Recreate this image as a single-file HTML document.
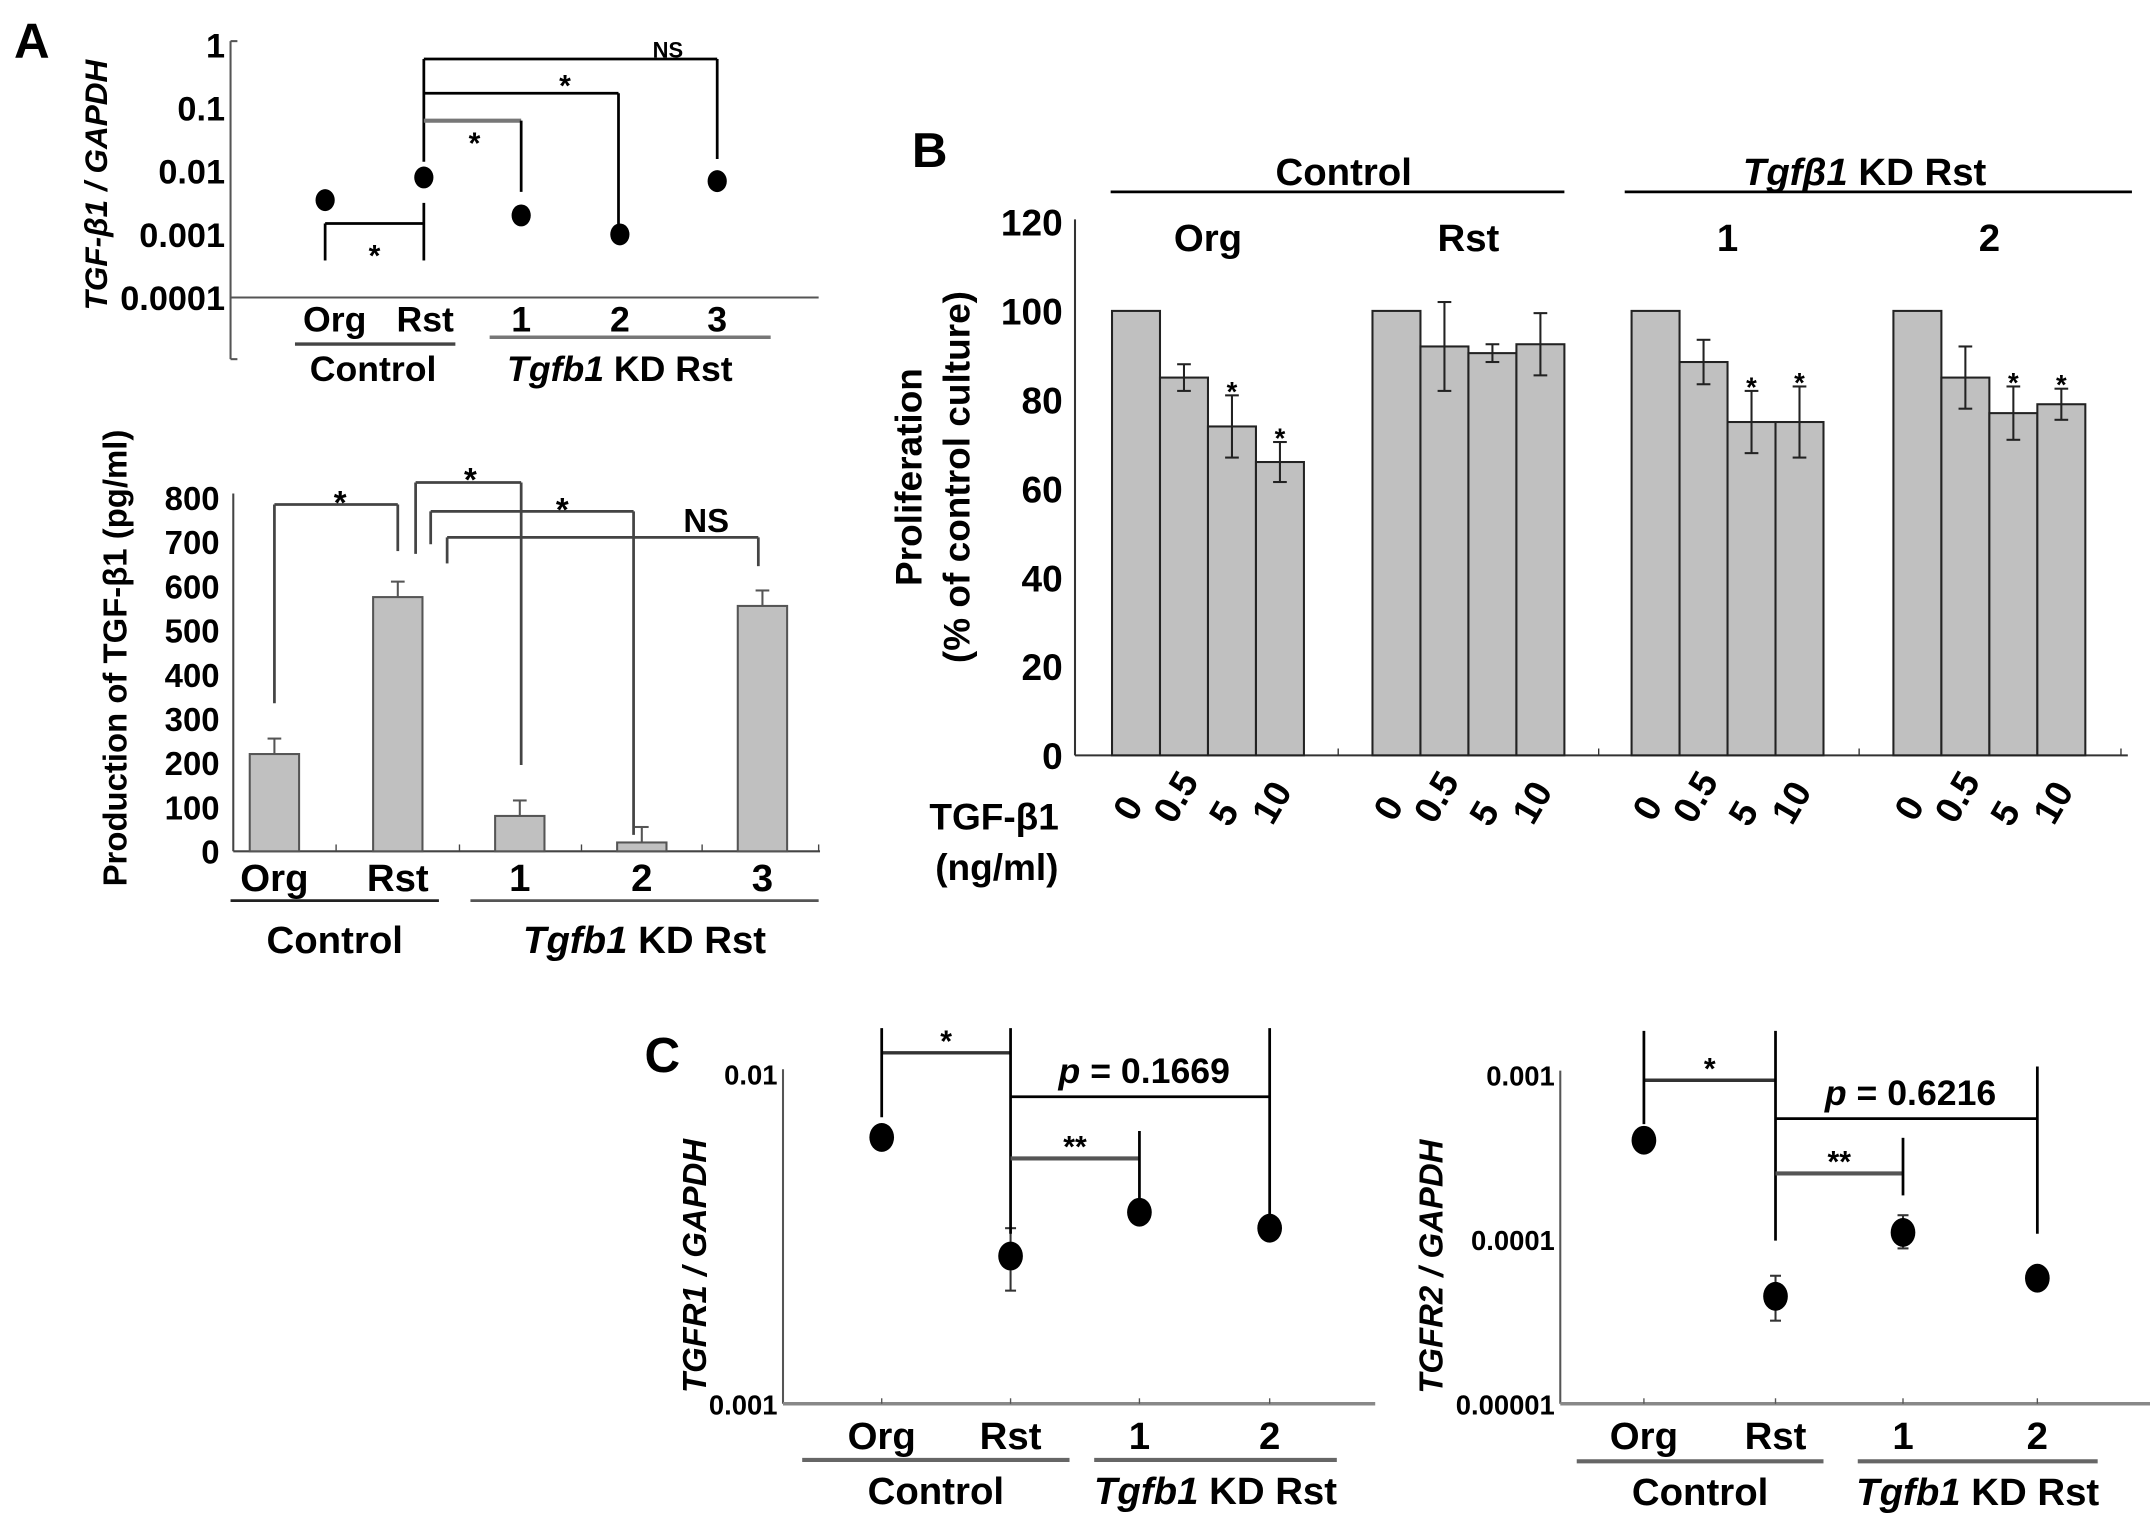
<!DOCTYPE html>
<html><head><meta charset="utf-8"><style>
html,body{margin:0;padding:0;background:#fff;}
svg{display:block;}
text{font-family:"Liberation Sans",sans-serif;font-weight:bold;fill:#000;}
.it{font-style:italic;}
</style></head><body>
<svg id="fig" width="2150" height="1534" viewBox="0 0 1568 1119" xmlns="http://www.w3.org/2000/svg">
<rect width="1568" height="1119" fill="#fff"/>
<g id="static">
<text x="10" y="42" font-size="36">A</text>
<text x="665" y="122" font-size="36">B</text>
<text x="470" y="782" font-size="36">C</text>
</g>
<g id="A1"></g>
<g id="A2"></g>
<g id="B"></g>
<g id="C1"></g>
<g id="C2"></g>
</svg>
<script>
// ---- data ----
const a1Categories = ["Org","Rst","1","2","3"];
const a1Values = [0.0035, 0.008, 0.002, 0.001, 0.007];
const a1Ticks = [1, 0.1, 0.01, 0.001, 0.0001];
const a1TickLabels = ["1","0.1","0.01","0.001","0.0001"];

const a2Categories = ["Org","Rst","1","2","3"];
const a2Values = [220, 575, 80, 20, 555];
const a2Errors = [35, 35, 35, 35, 35];
const a2Ticks = [0,100,200,300,400,500,600,700,800];

const bGroups = ["Org","Rst","1","2"];
const bDoses = ["0","0.5","5","10"];
const bValues = [[100,85,74,66],[100,92,90.5,92.5],[100,88.5,75,75],[100,85,77,79]];
const bErrors = [[0,3,7,4.5],[0,10,2,7],[0,5,7,8],[0,7,6,3.5]];
const bStars = [[0,0,1,1],[0,0,0,0],[0,0,1,1],[0,0,1,1]];
const bTicks = [0,20,40,60,80,100,120];

const c1Categories = ["Org","Rst","1","2"];
const c1Values = [0.0064, 0.0028, 0.0038, 0.0034];
const c1ErrLow = [0.0062, 0.0022, 0.0036, 0.0033];
const c1ErrHigh = [0.0066, 0.0034, 0.0040, 0.0035];
const c1TickLabels = ["0.01","0.001"];

const c2Categories = ["Org","Rst","1","2"];
const c2Values = [0.0004, 0.000045, 0.00011, 0.000058];
const c2ErrLow = [0.00039, 0.000032, 0.000088, 0.000056];
const c2ErrHigh = [0.00041, 0.00006, 0.00014, 0.00006];
const c2TickLabels = ["0.001","0.0001","0.00001"];

const NS="http://www.w3.org/2000/svg";
function el(parent, tag, attrs, txt){const e=document.createElementNS(NS,tag);for(const k in attrs)e.setAttribute(k,attrs[k]);if(txt!==undefined)e.textContent=txt;parent.appendChild(e);return e;}
function line(p,x1,y1,x2,y2,c,w){return el(p,'line',{x1,y1,x2,y2,stroke:c||'#000','stroke-width':w||2});}
function txt(p,x,y,s,size,anchor,extra){const t=el(p,'text',Object.assign({x,y,'font-size':size,'text-anchor':anchor||'middle'},extra||{}),s);return t;}

// ---- Panel A top ----
(function(){
 const g=document.getElementById('A1');
 const yA=v=>217-46*(Math.log10(v)+4);
 const xs=[237,309,380,452,523];
 line(g,168,30,168,262,'#555',1.5);line(g,168,30,173,30,'#555',1.5);line(g,168,262,173,262,'#555',1.5);
 line(g,168,217,597,217,'#555',1.5);
 a1Ticks.forEach((t,i)=>{const e=txt(g,164,yA(t)+9,a1TickLabels[i],25,'end');});
 const yt=txt(g,0,0,'TGF-β1 / GAPDH',23,'middle',{class:'it',transform:'translate(78,135) rotate(-90)'});
 
 a1Values.forEach((v,i)=>{
  line(g,xs[i],yA(v),xs[i],yA(v*0.7),'#666',1.5);
  const c=el(g,'ellipse',{cx:xs[i],cy:yA(v),rx:7,ry:8,fill:'#000'});
  
 });
 const lx=[244,310,380,452,523];
 a1Categories.forEach((c,i)=>{const e=txt(g,lx[i],242,c,26);});
 line(g,215,251,332,251,'#444',2.5);line(g,357,246,562,246,'#777',2.5);
 txt(g,272,278,'Control',26);
 const k=txt(g,452,278,'',26);el(k,'tspan',{class:'it'},'Tgfb1');el(k,'tspan',{},' KD Rst');
 // brackets
 line(g,309,43,523,43);line(g,309,43,309,118);line(g,523,43,523,116);txt(g,487,42,'NS',16);
 line(g,309,68,451,68);line(g,451,68,451,165);txt(g,412,70,'*',22);
 line(g,309,88,380,88,'#777',3);line(g,380,88,380,140);txt(g,346,112,'*',22);
 line(g,237,163,309,163);line(g,237,163,237,190);line(g,309,148,309,190);txt(g,273,194,'*',22);
})();

// ---- Panel A bottom ----
(function(){
 const g=document.getElementById('A2');
 const y=v=>621-v*0.3225;const xs=[200,290,379,468,556];const bw=36;
 line(g,170,360,170,621,'#444',1.5);line(g,170,621,598,621,'#444',1.5);
 a2Ticks.forEach(t=>{const e=txt(g,160,y(t)+9,String(t),24,'end');});
 [245,335,424,512,597].forEach(x=>line(g,x,621,x,616,'#444',1));
 const yt=txt(g,0,0,'Production of TGF-β1 (pg/ml)',24,'middle',{transform:'translate(92,480) rotate(-90)'});
 
 a2Values.forEach((v,i)=>{
  line(g,xs[i],y(v),xs[i],y(v+a2Errors[i]),'#555',1.5);line(g,xs[i]-5,y(v+a2Errors[i]),xs[i]+5,y(v+a2Errors[i]),'#555',1.5);
  const r=el(g,'rect',{x:xs[i]-bw/2,y:y(v),width:bw,height:621-y(v),fill:'#c0c0c0',stroke:'#555','stroke-width':1.5});
  
 });
 a2Categories.forEach((c,i)=>{const e=txt(g,xs[i],650,c,28);});
 line(g,168,657,320,657,'#222',2);line(g,343,657,597,657,'#555',2);
 txt(g,244,695,'Control',28);
 const k=txt(g,470,695,'',28);el(k,'tspan',{class:'it'},'Tgfb1');el(k,'tspan',{},' KD Rst');
 line(g,200,368,290,368,'#444',2);line(g,200,368,200,513,'#444',2);line(g,290,368,290,402,'#444',2);txt(g,248,375,'*',24);
 line(g,303,352,380,352,'#444',2);line(g,303,352,303,404,'#444',2);line(g,380,352,380,558,'#444',2);txt(g,343,358,'*',24);
 line(g,314,373,462,373,'#444',2);line(g,314,373,314,397,'#444',2);line(g,462,373,462,609,'#444',2);txt(g,410,380,'*',24);
 line(g,326,392,553,392,'#444',2);line(g,326,392,326,411,'#444',2);line(g,553,392,553,413,'#444',2);txt(g,515,388,'NS',24);
})();

// ---- Panel B ----
(function(){
 const g=document.getElementById('B');
 const y=v=>551-v*3.242;const starts=[811,1001,1190,1381];const bw=35;
 line(g,784,160,784,551,'#333',1.5);line(g,784,551,1552,551,'#333',1.5);
 [976,1166,1356,1547].forEach(x=>line(g,x,551,x,546,'#333',1));
 bTicks.forEach(t=>{const e=txt(g,775,y(t)+10,String(t),27,'end');});
 const t1=txt(g,0,0,'Proliferation',27,'middle',{transform:'translate(672,348) rotate(-90)'});
 
 txt(g,0,0,'(% of control culture)',27,'middle',{transform:'translate(707,348) rotate(-90)'});
 bGroups.forEach((gn,gi)=>{
  bValues[gi].forEach((v,di)=>{
   const x=starts[gi]+di*bw;
   const r=el(g,'rect',{x,y:y(v),width:bw,height:551-y(v),fill:'#c0c0c0',stroke:'#222','stroke-width':1.5});
   
   const e=bErrors[gi][di];const cx=x+bw/2;
   if(e>0){line(g,cx,y(v-e),cx,y(v+e),'#222',1.5);line(g,cx-5,y(v-e),cx+5,y(v-e),'#222',1.5);line(g,cx-5,y(v+e),cx+5,y(v+e),'#222',1.5);}
   if(bStars[gi][di]) txt(g,cx,y(v+e)+4,'*',20);
   const dy=[0,-8,4,-4][di];
   const lt=txt(g,0,0,bDoses[di],27,'middle',{transform:`translate(${cx+2},${594+dy}) rotate(-60)`});
   
  });
  const gl=txt(g,starts[gi]+2*bw,183,gn,28);
 });
 line(g,810,140,1141,140,'#000',2);line(g,1185,140,1555,140,'#000',2);
 txt(g,980,135,'Control',28);
 const k=txt(g,1360,135,'',28);el(k,'tspan',{class:'it'},'Tgfβ1');el(k,'tspan',{},' KD Rst');
 txt(g,725,605,'TGF-β1',27);txt(g,727,642,'(ng/ml)',27);
})();

// ---- Panel C ----
function logPanel(id,xAxis,yTop,yBot,decades,topExp,cats,vals,lo,hi,tickLabels,xs,title,titleX,pText,br,under){
 const g=document.getElementById(id);
 const per=(yBot-yTop)/decades;
 const y=v=>yTop+(topExp-Math.log10(v))*per;
 line(g,xAxis,yTop-3,xAxis,yBot,'#555',1.5);line(g,xAxis,yBot,xAxis+432,yBot,'#888',2.5);
 xs.forEach(x=>line(g,x,yBot,x,yBot-4,'#555',1));
 tickLabels.forEach((t,i)=>{const e=txt(g,xAxis-4,yTop+i*per+8,t,20,'end');});
 const yt=txt(g,0,0,title,24,'middle',{class:'it',transform:`translate(${titleX},${(yTop+yBot)/2+20}) rotate(-90)`});
 
 vals.forEach((v,i)=>{
  line(g,xs[i],y(lo[i]),xs[i],y(hi[i]),'#333',1.5);line(g,xs[i]-4,y(lo[i]),xs[i]+4,y(lo[i]),'#333',1.5);line(g,xs[i]-4,y(hi[i]),xs[i]+4,y(hi[i]),'#333',1.5);
  const c=el(g,'ellipse',{cx:xs[i],cy:y(v),rx:9,ry:10.5,fill:'#000'});
  
 });
 cats.forEach((c,i)=>{const e=txt(g,xs[i],yBot+33,c,28);});
 line(g,under[0],under[2],under[1],under[2],'#666',3);line(g,under[3],under[2],under[4],under[2],'#666',3);
 txt(g,(under[0]+under[1])/2,under[2]+32,'Control',28);
 const k=txt(g,(under[3]+under[4])/2,under[2]+32,'',28);el(k,'tspan',{class:'it'},'Tgfb1');el(k,'tspan',{},' KD Rst');
 line(g,xs[0],br[0],xs[1],br[0],'#333',2.5);line(g,xs[0],br[1],xs[0],br[2]);line(g,xs[1],br[1],xs[1],br[3]);
 txt(g,(xs[0]+xs[1])/2,br[0]-1,'*',22);
 line(g,xs[1],br[4],xs[3],br[4]);line(g,xs[3],br[5],xs[3],br[6]);
 const p=txt(g,(xs[1]+xs[3])/2+3,br[4]-10,'',26);el(p,'tspan',{class:'it'},'p');el(p,'tspan',{},' = '+pText);
 line(g,xs[1],br[7],xs[2],br[7],'#555',3);line(g,xs[2],br[8],xs[2],br[9]);
 txt(g,(xs[1]+xs[2])/2,br[7]-1,'**',22);
}
logPanel('C1',571,783,1024,1,-2,c1Categories,c1Values,c1ErrLow,c1ErrHigh,c1TickLabels,[643,737,831,926],'TGFR1 / GAPDH',515,'0.1669',
 [768,750,815,900,800,750,890,845,825,880],[585,780,1065,798,975]);
logPanel('C2',1138,784,1024,2,-3,c2Categories,c2Values,c2ErrLow,c2ErrHigh,c2TickLabels,[1199,1295,1388,1486],'TGFR2 / GAPDH',1052,'0.6216',
 [788,752,820,905,816,778,900,856,830,872],[1150,1330,1066,1355,1530]);
</script>
</body></html>
